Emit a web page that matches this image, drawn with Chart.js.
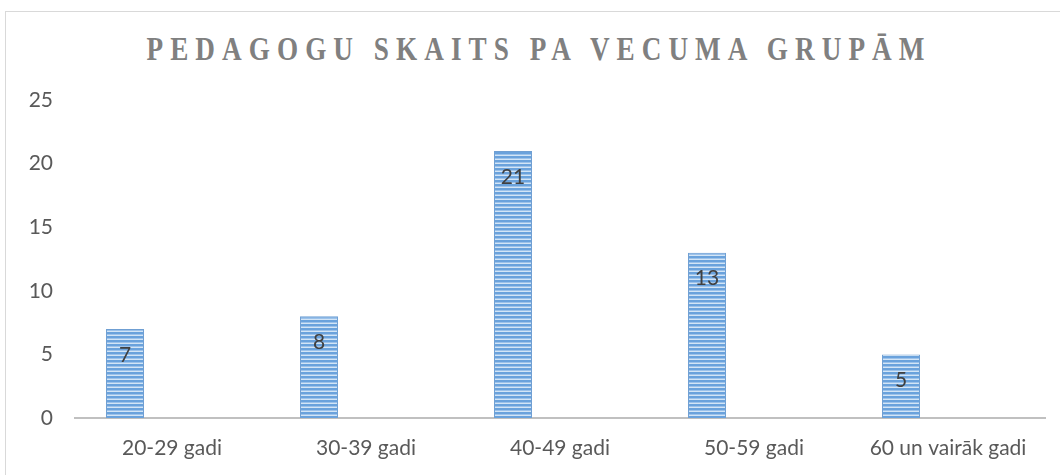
<!DOCTYPE html>
<html>
<head>
<meta charset="utf-8">
<script src="https://cdn.jsdelivr.net/npm/chart.js@4/dist/chart.umd.min.js"></script>
<style>
  body { margin: 0; background: #fff; }
  #wrap { position: relative; width: 1060px; height: 475px; overflow: hidden; }
  #frame { position: absolute; left: 5px; top: 11px; width: 1100px; height: 500px; border: 1px solid #d9d9d9; }
  #title {
    position: absolute; left: 0; top: 32px; width: 1078px; text-align: center;
    font-family: "Liberation Serif", serif; font-weight: bold; font-size: 34px;
    line-height: 34px; letter-spacing: 8.8px; color: #808080;
    transform: scaleX(0.8); transform-origin: 539px 0;
    white-space: nowrap;
  }
  #myChart { position: absolute; left: 0; top: 0; }
</style>
</head>
<body>
<div id="wrap">
  <div id="frame"></div>
  <div id="title">PEDAGOGU SKAITS PA VECUMA GRUPĀM</div>
  <canvas id="myChart" width="1060" height="475"></canvas>
</div>
<script>
const categories = ["20-29 gadi", "30-39 gadi", "40-49 gadi", "50-59 gadi", "60 un vairāk gadi"];
const teachers = [7, 8, 21, 13, 5];
const emptySeries = [null, null, null, null, null];
const yTicks = [0, 5, 10, 15, 20, 25];

// striped fill like the office "horizontal lines" pattern
function makeStripes() {
  const c = document.createElement("canvas");
  c.width = 4;
  c.height = 4;
  const g = c.getContext("2d");
  g.fillStyle = "#6aa2dc";
  g.fillRect(0, 0, 4, 2);
  g.fillStyle = "#9cc2ea";
  g.fillRect(0, 2, 4, 1);
  g.fillStyle = "#d3e5f6";
  g.fillRect(0, 3, 4, 1);
  return g.createPattern(c, "repeat");
}

const valueLabels = {
  id: "valueLabels",
  afterDatasetsDraw(chart) {
    const ctx = chart.ctx;
    const meta = chart.getDatasetMeta(0);
    ctx.save();
    ctx.font = '21px "Lato", sans-serif';
    ctx.fillStyle = "#404040";
    ctx.textAlign = "center";
    ctx.textBaseline = "middle";
    meta.data.forEach((bar, i) => {
      ctx.fillText(String(teachers[i]), bar.x, bar.y + 26);
    });
    ctx.restore();
  },
};

const ctx = document.getElementById("myChart");
// eslint-disable-next-line
const myChart = new Chart(ctx, {
  type: "bar",
  data: {
    labels: categories,
    datasets: [
      {
        label: "Pedagogi",
        data: teachers,
        backgroundColor: makeStripes(),
        borderColor: "#6f9fd3",
        borderWidth: { left: 1, right: 1, top: 1, bottom: 0 },
        borderSkipped: false,
        categoryPercentage: 0.969,
        barPercentage: 0.404,
      },
      {
        label: "",
        data: emptySeries,
        backgroundColor: "#ffffff",
        categoryPercentage: 0.969,
        barPercentage: 0.404,
      },
    ],
  },
  options: {
    responsive: false,
    animation: false,
    layout: { padding: { left: 0, right: 15, top: 100, bottom: 0 } },
    plugins: {
      legend: { display: false },
      tooltip: { enabled: false },
    },
    scales: {
      x: {
        grid: { display: false, drawTicks: false },
        border: { display: true, color: "#c0c0c0", width: 2 },
        ticks: {
          color: "#595959",
          font: { family: "Lato", size: 21 },
          padding: 18,
        },
        afterFit(axis) {
          axis.height = 57;
        },
      },
      y: {
        min: 0,
        max: 25,
        grid: { display: false, drawTicks: false },
        border: { display: false },
        afterBuildTicks(axis) {
          axis.ticks = yTicks.map((v) => ({ value: v }));
        },
        ticks: {
          color: "#595959",
          font: { family: "Lato", size: 21 },
          padding: 22,
        },
        afterFit(axis) {
          axis.width = 75;
        },
      },
    },
  },
  plugins: [valueLabels],
});
</script>
</body>
</html>
